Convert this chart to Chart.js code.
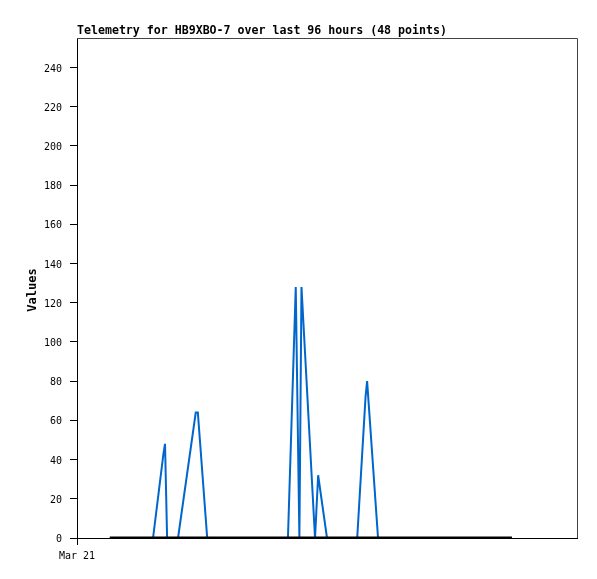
<!DOCTYPE html>
<html>
<head>
<meta charset="utf-8">
<title>Telemetry</title>
<script src="https://cdn.jsdelivr.net/npm/chart.js@4"></script>
<style>
  html, body { margin: 0; padding: 0; background: #fff; }
  #wrap { width: 597px; height: 579px; }
</style>
</head>
<body>
<div id="wrap"><canvas id="telemetryChart" width="597" height="579"></canvas></div>
<script>
// Dados (horas desde o início do eixo, 96 h no total)
const chartTitle = 'Telemetry for HB9XBO-7 over last 96 hours (48 points)';
const yAxisTitle = 'Values';
const xTickLabels = ['Mar 21'];
const xTickHours = [0];
const yTicks = [0, 20, 40, 60, 80, 100, 120, 140, 160, 180, 200, 220, 240];

const hours = [
  6.3, 8.3, 10.4, 12.5, 14.6, 16.6, 16.9, 17.3, 19.4, 22.8,
  23.2, 25.0, 26.7, 28.4, 30.1, 31.9, 33.6, 35.3, 37.1, 38.8,
  40.5, 42.0, 42.7, 43.1, 45.7, 46.3, 48.0, 49.9, 51.8, 53.8,
  55.4, 55.7, 57.8, 59.7, 61.6, 63.6, 65.5, 67.4, 69.3, 71.2,
  73.2, 74.9, 76.6, 78.3, 80.1, 81.8, 82.8, 83.5
];
const valuesBlue = [
  0, 0, 0, 0, 0, 43, 48, 0, 0, 64,
  64, 0, 0, 0, 0, 0, 0, 0, 0, 0,
  0, 128, 0, 128, 0, 32, 0, 0, 0, 0,
  72, 80, 0, 0, 0, 0, 0, 0, 0, 0,
  0, 0, 0, 0, 0, 0, 0, 0
];
const valuesBlack = [
  0, 0, 0, 0, 0, 0, 0, 0, 0, 0,
  0, 0, 0, 0, 0, 0, 0, 0, 0, 0,
  0, 0, 0, 0, 0, 0, 0, 0, 0, 0,
  0, 0, 0, 0, 0, 0, 0, 0, 0, 0,
  0, 0, 0, 0, 0, 0, 0, 0
];

function toPoints(xs, ys) {
  return xs.map((x, i) => ({ x: x, y: ys[i] }));
}

// Título, moldura e rótulo do eixo Y desenhados à mão
const extras = {
  id: 'extras',
  beforeDatasetsDraw(chart) {
    const a = chart.chartArea;
    const c = chart.ctx;
    c.save();
    c.strokeStyle = '#444';
    c.lineWidth = 1;
    c.beginPath();
    c.moveTo(a.left, a.top + 0.5);
    c.lineTo(a.right + 0.5, a.top + 0.5);
    c.lineTo(a.right + 0.5, a.bottom);
    c.stroke();
    c.restore();
  },
  afterDraw(chart) {
    const a = chart.chartArea;
    const c = chart.ctx;
    c.save();
    c.fillStyle = '#000';
    c.font = 'bold 11.6px "DejaVu Sans Mono"';
    c.textAlign = 'left';
    c.textBaseline = 'alphabetic';
    c.fillText(chartTitle, a.left, 34);

    c.translate(33, (a.top + a.bottom) / 2 + 2);
    c.rotate(-Math.PI / 2);
    c.font = 'bold 12px "DejaVu Sans Mono"';
    c.textAlign = 'center';
    c.textBaseline = 'middle';
    c.fillText(yAxisTitle, 0, 0);
    c.restore();
  }
};

const ctx = document.getElementById('telemetryChart').getContext('2d');
const telemetryChart = new Chart(ctx, {
  type: 'line',
  data: {
    datasets: [{
      label: 'Channel 1',
      data: toPoints(hours, valuesBlue),
      borderColor: '#0066cc',
      borderWidth: 2,
      pointRadius: 0,
      tension: 0,
      fill: false,
      order: 2
    }, {
      label: 'Channel 2',
      data: toPoints(hours, valuesBlack),
      borderColor: '#000000',
      borderWidth: 3,
      pointRadius: 0,
      tension: 0,
      fill: false,
      order: 1
    }]
  },
  options: {
    responsive: false,
    animation: false,
    layout: { padding: { left: 0, top: 38, right: 20, bottom: 0 } },
    plugins: {
      legend: { display: false },
      title: { display: false },
      tooltip: { enabled: false }
    },
    scales: {
      x: {
        type: 'linear',
        min: 0,
        max: 96,
        afterBuildTicks(scale) {
          scale.ticks = xTickHours.map(v => ({ value: v }));
        },
        afterFit(scale) { scale.height = 41; },
        grid: { drawOnChartArea: false, color: '#000', tickLength: 7 },
        border: { color: '#000', width: 1 },
        ticks: {
          color: '#000',
          padding: 5,
          maxRotation: 0,
          font: { family: '"DejaVu Sans Mono"', size: 10 },
          callback: (v, i) => xTickLabels[i]
        }
      },
      y: {
        min: 0,
        max: 255,
        afterBuildTicks(scale) {
          scale.ticks = yTicks.map(v => ({ value: v }));
        },
        afterFit(scale) { scale.width = 77; },
        grid: { drawOnChartArea: false, color: '#000', tickLength: 7 },
        border: { color: '#000', width: 1 },
        ticks: {
          color: '#000',
          padding: 8,
          labelOffset: 1.5,
          font: { family: '"DejaVu Sans Mono"', size: 10 }
        }
      }
    }
  },
  plugins: [extras]
});
</script>
</body>
</html>
